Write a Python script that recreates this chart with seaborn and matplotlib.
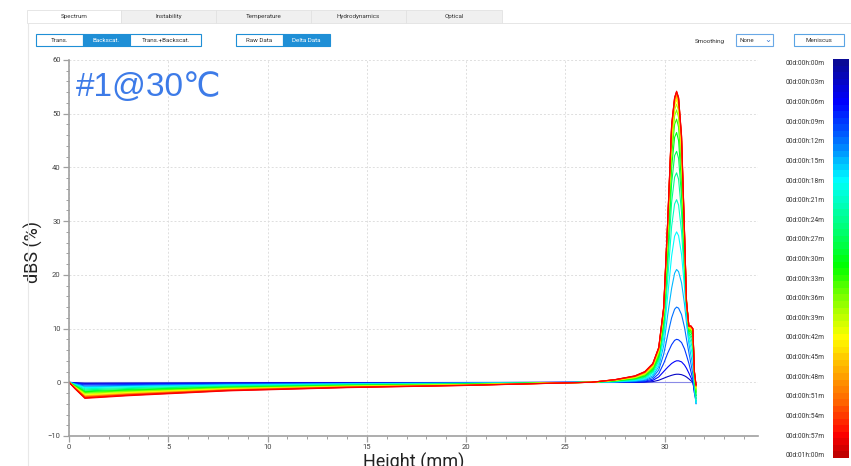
import matplotlib
matplotlib.use("Agg")
import matplotlib.pyplot as plt
from matplotlib.colors import LinearSegmentedColormap, ListedColormap, Normalize
from matplotlib.cm import ScalarMappable
from matplotlib.patches import Rectangle
from matplotlib.ticker import MultipleLocator
import seaborn as sns
import pandas as pd
import numpy as np

# scan times (minutes) shown on the colour scale
times_min = [0, 3, 6, 9, 12, 15, 18, 21, 24, 27, 30, 33, 36, 39, 42, 45, 48, 51, 54, 57, 60]
time_labels = ['00d:00h:00m', '00d:00h:03m', '00d:00h:06m', '00d:00h:09m', '00d:00h:12m',
               '00d:00h:15m', '00d:00h:18m', '00d:00h:21m', '00d:00h:24m', '00d:00h:27m',
               '00d:00h:30m', '00d:00h:33m', '00d:00h:36m', '00d:00h:39m', '00d:00h:42m',
               '00d:00h:45m', '00d:00h:48m', '00d:00h:51m', '00d:00h:54m', '00d:00h:57m',
               '00d:01h:00m']

# bottom / middle of the tube
left_heights = [0, 0.3, 0.8, 3, 8, 14, 20, 26.3]
left_dbs = [
    [0, 0, 0, 0, 0, 0, 0, 0],
    [0, -0.08, -0.2, -0.17, -0.1, -0.07, -0.04, 0],
    [0, -0.14, -0.35, -0.29, -0.19, -0.12, -0.07, 0],
    [0, -0.2, -0.5, -0.42, -0.27, -0.17, -0.1, 0],
    [0, -0.28, -0.7, -0.58, -0.37, -0.23, -0.14, 0],
    [0, -0.34, -0.85, -0.71, -0.45, -0.28, -0.17, 0],
    [0, -0.4, -1.0, -0.83, -0.53, -0.33, -0.2, 0],
    [0, -0.48, -1.2, -1.0, -0.64, -0.4, -0.24, 0],
    [0, -0.56, -1.4, -1.16, -0.74, -0.46, -0.28, 0],
    [0, -0.64, -1.6, -1.33, -0.85, -0.53, -0.32, 0],
    [0, -0.7, -1.75, -1.45, -0.93, -0.58, -0.35, 0],
    [0, -0.76, -1.9, -1.58, -1.0, -0.63, -0.38, 0],
    [0, -0.82, -2.05, -1.7, -1.09, -0.68, -0.41, 0],
    [0, -0.88, -2.2, -1.83, -1.17, -0.73, -0.44, 0],
    [0, -0.94, -2.35, -1.95, -1.25, -0.78, -0.47, 0],
    [0, -1.0, -2.5, -2.08, -1.33, -0.83, -0.5, 0],
    [0, -1.04, -2.6, -2.16, -1.38, -0.86, -0.52, 0],
    [0, -1.08, -2.7, -2.24, -1.43, -0.89, -0.54, 0],
    [0, -1.12, -2.8, -2.32, -1.48, -0.92, -0.56, 0],
    [0, -1.16, -2.9, -2.41, -1.54, -0.96, -0.58, 0],
    [0, -1.2, -3.0, -2.5, -1.6, -1.0, -0.6, 0],
]

# top of the sample, where the peak builds up
peak_heights = [27.5, 28.5, 29.0, 29.4, 29.7, 29.95, 30.15, 30.35, 30.5, 30.6,
                30.7, 30.85, 31.0, 31.1, 31.22, 31.32, 31.42, 31.5, 31.58]
peak_dbs = [
    [0, 0, 0, 0, 0, 0, 0, 0, 0, 0, 0, 0, 0, 0, 0, 0, 0, 0, 0],
    [0, 0, 0.03, 0.12, 0.38, 0.75, 1.05, 1.3, 1.45, 1.5, 1.5, 1.42, 1.2, 0.98, 0.63, 0.3, 0, -1.5, -2.5],
    [0, 0.02, 0.1, 0.35, 1.0, 2.0, 2.8, 3.5, 3.85, 4.0, 4.0, 3.8, 3.2, 2.6, 1.7, 0.9, 0.1, -2.0, -3.0],
    [0.03, 0.08, 0.2, 0.6, 1.6, 3.5, 5.4, 7.0, 7.8, 8.0, 7.9, 7.4, 6.2, 5.0, 3.5, 2.0, 0.5, -2.0, -3.5],
    [0.05, 0.15, 0.35, 0.9, 2.3, 5.2, 8.8, 12.0, 13.6, 14.0, 13.8, 12.6, 10.2, 8.0, 5.5, 3.5, 1.5, -1.5, -4.0],
    [0.08, 0.25, 0.5, 1.2, 2.9, 6.8, 12.5, 17.5, 20.3, 21.0, 20.6, 18.5, 14.5, 11.0, 7.2, 5.0, 3.0, -1.0, -4.0],
    [0.1, 0.35, 0.65, 1.5, 3.4, 8.2, 16.0, 23.5, 27.2, 28.0, 27.3, 23.8, 17.5, 12.5, 8.0, 6.5, 4.5, -0.5, -3.8],
    [0.15, 0.45, 0.8, 1.8, 3.9, 9.3, 19.0, 29.0, 33.2, 34.0, 33.0, 28.0, 19.5, 13.5, 8.5, 7.5, 6.0, 0, -3.5],
    [0.2, 0.55, 0.95, 2.0, 4.3, 10.2, 21.5, 33.5, 38.2, 39.0, 37.8, 31.5, 21.0, 14.0, 9.0, 8.3, 7.0, 0.5, -3.0],
    [0.25, 0.62, 1.1, 2.2, 4.6, 11.0, 23.5, 37.0, 42.2, 43.0, 41.7, 34.5, 22.5, 14.5, 9.3, 8.8, 8.0, 0.8, -2.5],
    [0.28, 0.7, 1.2, 2.4, 4.9, 11.6, 25.0, 40.0, 45.6, 46.5, 45.0, 37.0, 23.5, 14.8, 9.6, 9.3, 8.6, 1.0, -2.0],
    [0.32, 0.78, 1.35, 2.6, 5.2, 12.1, 26.3, 42.2, 48.0, 49.0, 47.5, 39.5, 24.5, 15.0, 9.8, 9.6, 9.0, 1.2, -1.7],
    [0.35, 0.85, 1.45, 2.8, 5.5, 12.5, 27.3, 43.8, 49.6, 50.7, 49.3, 41.2, 25.4, 15.0, 10.0, 9.8, 9.3, 1.4, -1.4],
    [0.38, 0.9, 1.55, 2.95, 5.7, 12.9, 28.0, 45.0, 50.7, 51.8, 50.5, 42.6, 26.0, 15.0, 10.1, 10.0, 9.5, 1.5, -1.2],
    [0.4, 0.95, 1.65, 3.05, 5.9, 13.2, 28.6, 45.9, 51.5, 52.6, 51.4, 43.6, 26.5, 15.0, 10.2, 10.1, 9.6, 1.6, -1.0],
    [0.42, 1.0, 1.72, 3.15, 6.05, 13.4, 29.0, 46.6, 52.0, 53.1, 52.0, 44.3, 27.0, 15.0, 10.3, 10.2, 9.7, 1.7, -0.9],
    [0.45, 1.05, 1.8, 3.25, 6.2, 13.6, 29.4, 47.1, 52.4, 53.5, 52.4, 44.9, 27.3, 15.0, 10.3, 10.3, 9.8, 1.8, -0.8],
    [0.46, 1.1, 1.86, 3.33, 6.3, 13.75, 29.6, 47.5, 52.7, 53.8, 52.7, 45.3, 27.6, 15.0, 10.4, 10.4, 9.9, 1.8, -0.7],
    [0.48, 1.13, 1.9, 3.4, 6.4, 13.85, 29.8, 47.7, 52.9, 54.0, 52.9, 45.6, 27.8, 15.0, 10.4, 10.4, 9.9, 1.9, -0.6],
    [0.49, 1.17, 1.95, 3.45, 6.45, 13.95, 29.9, 47.9, 53.0, 54.1, 53.0, 45.8, 27.9, 15.0, 10.5, 10.5, 10.0, 1.9, -0.5],
    [0.5, 1.2, 2.0, 3.5, 6.5, 14.0, 30.0, 48.0, 53.0, 54.2, 53.0, 46.0, 28.0, 15.0, 10.5, 10.5, 10.0, 2.0, -0.5],
]

tab_names = ['Spectrum', 'Instability', 'Temperature', 'Hydrodynamics', 'Optical']

heights = left_heights + peak_heights
rows = []
for t, l, p in zip(times_min, left_dbs, peak_dbs):
    for h, v in zip(heights, l + p):
        rows.append({'time': t, 'height': h, 'dbs': v})
df = pd.DataFrame(rows)

sns.set_theme(style='white')
plt.rcParams['font.family'] = ['Roboto', 'DejaVu Sans']

rainbow = LinearSegmentedColormap.from_list('scan_time', [
    (0.0, '#0a0a96'), (0.1, '#0000ff'), (0.2, '#0070ff'), (0.3, '#00ffff'),
    (0.47, '#00ff40'), (0.52, '#00ff00'), (0.6, '#80ff00'), (0.7, '#ffff00'),
    (0.75, '#ffd000'), (0.8, '#ffa000'), (0.87, '#ff6000'), (0.95, '#ff0000'),
    (1.0, '#c00000')])
steps = ListedColormap(rainbow(np.linspace(0, 1, 61)))
# lines use the bright part of the scale (the last one is plain red)
palette = {t: rainbow(min(t / 60, 0.95)) for t in times_min}
palette[0] = '#8a8ae6'

W, H = 851, 466
fig = plt.figure(figsize=(W / 100, H / 100), dpi=100)


def box(x, y, w, h, fc, ec, lw=0.8, z=1):
    fig.add_artist(Rectangle((x / W, 1 - (y + h) / H), w / W, h / H,
                             transform=fig.transFigure, fc=fc, ec=ec, lw=lw, zorder=z))


def label(x, y, s, size=4.5, color='#333333', ha='center'):
    fig.text(x / W, 1 - y / H, s, fontsize=size, color=color, ha=ha, va='center')


# tab strip
tab_edges = [27, 121, 216, 311, 406, 502]
for i, name in enumerate(tab_names):
    x0, x1 = tab_edges[i], tab_edges[i + 1]
    box(x0, 10, x1 - x0, 13, 'white' if i == 0 else '#f0f0f0', '#e2e2e2', lw=0.6)
    label((x0 + x1) / 2, 16.5, name)
fig.add_artist(plt.Line2D([502 / W, 1], [1 - 23 / H] * 2, color='#e2e2e2', lw=0.6,
                          transform=fig.transFigure))
fig.add_artist(plt.Line2D([28 / W] * 2, [0, 1 - 23 / H], color='#e8e8e8', lw=0.8,
                          transform=fig.transFigure))

blue = '#1f8fd6'
for x0, x1, txt, on in [(36, 83, 'Trans.', False), (83, 130, 'Backscat.', True),
                        (130, 201, 'Trans.+Backscat.', False),
                        (236, 283, 'Raw Data', False), (283, 330, 'Delta Data', True)]:
    box(x0, 34, x1 - x0, 12, blue if on else 'white', blue, lw=0.8)
    label((x0 + x1) / 2, 40, txt, color='white' if on else '#333333')

label(710, 41, 'Smoothing')
box(736, 34, 37, 12, 'white', '#6aa8e6', lw=0.8)
label(739, 40.5, 'None', ha='left')
label(768, 40, '\u2304', size=6, color='#3a7bd5')
box(794, 34, 50, 12, 'white', '#5aa4e4', lw=0.8)
label(819, 40, 'Meniscus')

# main chart
ax = fig.add_axes([69 / W, 30 / H, 689 / W, 376 / H])
sns.lineplot(data=df, x='height', y='dbs', hue='time', palette=palette,
             estimator=None, sort=False, legend=False, lw=0.8, ax=ax)

ax.set_xlim(0, 34.7)
ax.set_ylim(-10, 60)
ax.xaxis.set_major_locator(MultipleLocator(5))
ax.xaxis.set_minor_locator(MultipleLocator(1))
ax.yaxis.set_major_locator(MultipleLocator(10))
ax.yaxis.set_minor_locator(MultipleLocator(2))
ax.grid(True, which='major', ls=(0, (2, 2)), color='#dedede', lw=0.7)
for side in ['top', 'right']:
    ax.spines[side].set_visible(False)
for side in ['left', 'bottom']:
    ax.spines[side].set_color('#a0a0a0')
    ax.spines[side].set_linewidth(1.2)
ax.tick_params(which='major', direction='out', length=4, width=0.9, color='#a0a0a0',
               labelsize=5.5, labelcolor='#444444', pad=2, left=True, bottom=True)
ax.tick_params(which='minor', direction='out', length=2.5, width=0.7, color='#a0a0a0',
               left=True, bottom=True)
ax.set_xlabel('Height (mm)', fontsize=13, color='#222222', labelpad=2)
ax.set_ylabel('dBS (%)', fontsize=13, color='#222222')
ax.yaxis.set_label_coords(-26 / 689, (466 - 252 - 30) / 376)
ax.text(7 / 689, 0.968, '#1@30\u2103', transform=ax.transAxes, fontsize=24,
        color='#3d7be8', ha='left', va='top', family=['Liberation Sans', 'DejaVu Sans'])

# time colour scale
cax = fig.add_axes([833 / W, 8 / H, 16 / W, 399 / H])
sm = ScalarMappable(norm=Normalize(-0.5, 60.5), cmap=steps)
cb = fig.colorbar(sm, cax=cax)
cb.outline.set_visible(False)
cax.invert_yaxis()
cax.yaxis.set_ticks_position('left')
cb.set_ticks(times_min)
cb.set_ticklabels(time_labels)
cax.tick_params(length=0, labelsize=4.8, labelcolor='#333333', pad=6)
cax.minorticks_off()

fig.savefig('out.png', dpi=100)
